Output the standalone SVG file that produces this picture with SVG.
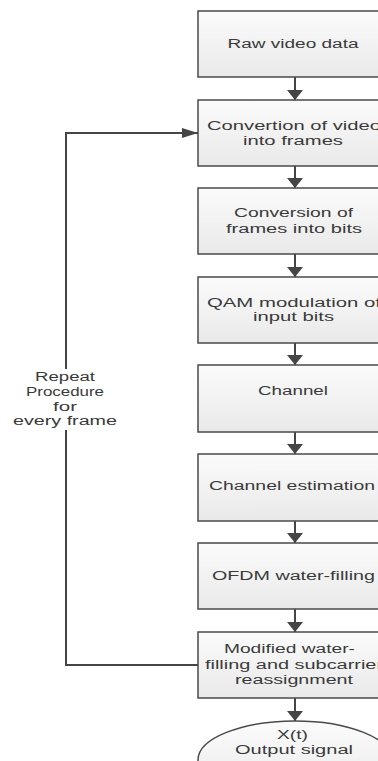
<svg xmlns="http://www.w3.org/2000/svg" width="378" height="761" viewBox="0 0 378 761">
<defs>
<linearGradient id="g" x1="0" y1="0" x2="0" y2="1">
<stop offset="0" stop-color="#fbfbfb"/>
<stop offset="1" stop-color="#e9e9e9"/>
</linearGradient>
<marker id="ad" markerUnits="userSpaceOnUse" markerWidth="12" markerHeight="18" refX="10" refY="8" orient="auto">
<path d="M0,0 L10,8 L0,16 Z" fill="#454545"/>
</marker>
<marker id="ar" markerUnits="userSpaceOnUse" markerWidth="18" markerHeight="12" refX="16" refY="5" orient="auto">
<path d="M0,0 L16,5 L0,10 Z" fill="#454545"/>
</marker>
</defs>
<style>
.box{fill:url(#g);stroke:#4a4a4a;stroke-width:1.5}
.t{font-family:"Liberation Sans",Arial,sans-serif;font-size:12.5px;fill:#3a3a3a;text-anchor:middle}
.c{fill:none;stroke:#454545;stroke-width:2}
</style>
<rect width="378" height="761" fill="#ffffff"/>
<g id="connectors">
<path class="c" d="M295,77 V100" marker-end="url(#ad)"/>
<path class="c" d="M295,166 V188" marker-end="url(#ad)"/>
<path class="c" d="M295,254 V277" marker-end="url(#ad)"/>
<path class="c" d="M295,343 V365" marker-end="url(#ad)"/>
<path class="c" d="M295,432 V454" marker-end="url(#ad)"/>
<path class="c" d="M295,521 V543" marker-end="url(#ad)"/>
<path class="c" d="M295,609 V632" marker-end="url(#ad)"/>
<path class="c" d="M295,698 V721" marker-end="url(#ad)"/>
<path class="c" d="M198,665 H66 V133 H198" marker-end="url(#ar)"/>
<g id="loop-label">
<rect x="12" y="369" width="108" height="61" fill="#ffffff"/>
<text class="t" x="65" y="381" textLength="60" lengthAdjust="spacingAndGlyphs">Repeat</text>
<text class="t" x="65" y="396" textLength="78" lengthAdjust="spacingAndGlyphs">Procedure</text>
<text class="t" x="65" y="411" textLength="24" lengthAdjust="spacingAndGlyphs">for</text>
<text class="t" x="65" y="425" textLength="104" lengthAdjust="spacingAndGlyphs">every frame</text>
</g>
</g>
<g id="n1"><rect class="box" x="198" y="11" width="194" height="66"/>
<text class="t" x="293" y="48" textLength="131" lengthAdjust="spacingAndGlyphs">Raw video data</text></g>
<g id="n2"><rect class="box" x="198" y="100" width="194" height="66"/>
<text class="t" x="294" y="130" textLength="174" lengthAdjust="spacingAndGlyphs">Convertion of video</text>
<text class="t" x="293" y="145" textLength="100" lengthAdjust="spacingAndGlyphs">into frames</text></g>
<g id="n3"><rect class="box" x="198" y="188" width="194" height="66"/>
<text class="t" x="293.5" y="217" textLength="119" lengthAdjust="spacingAndGlyphs">Conversion of</text>
<text class="t" x="294" y="233" textLength="136" lengthAdjust="spacingAndGlyphs">frames into bits</text></g>
<g id="n4"><rect class="box" x="198" y="277" width="194" height="66"/>
<text class="t" x="294" y="307" textLength="174" lengthAdjust="spacingAndGlyphs">QAM modulation of</text>
<text class="t" x="293.5" y="321" textLength="81" lengthAdjust="spacingAndGlyphs">input bits</text></g>
<g id="n5"><rect class="box" x="198" y="365" width="194" height="67"/>
<text class="t" x="293" y="395" textLength="70" lengthAdjust="spacingAndGlyphs">Channel</text></g>
<g id="n6"><rect class="box" x="198" y="454" width="194" height="67"/>
<text class="t" x="292" y="490" textLength="166" lengthAdjust="spacingAndGlyphs">Channel estimation</text></g>
<g id="n7"><rect class="box" x="198" y="543" width="194" height="66"/>
<text class="t" x="293.5" y="580" textLength="163" lengthAdjust="spacingAndGlyphs">OFDM water-filling</text></g>
<g id="n8"><rect class="box" x="198" y="632" width="194" height="66"/>
<text class="t" x="289.5" y="653" textLength="131" lengthAdjust="spacingAndGlyphs">Modified water-</text>
<text class="t" x="294" y="669" textLength="178" lengthAdjust="spacingAndGlyphs">filling and subcarrier</text>
<text class="t" x="294" y="684" textLength="118" lengthAdjust="spacingAndGlyphs">reassignment</text></g>
<g id="n9"><ellipse class="box" cx="295" cy="760" rx="97" ry="39"/>
<text class="t" x="292.5" y="739" textLength="31" lengthAdjust="spacingAndGlyphs">X(t)</text>
<text class="t" x="294" y="754" textLength="118" lengthAdjust="spacingAndGlyphs">Output signal</text></g>
</svg>
